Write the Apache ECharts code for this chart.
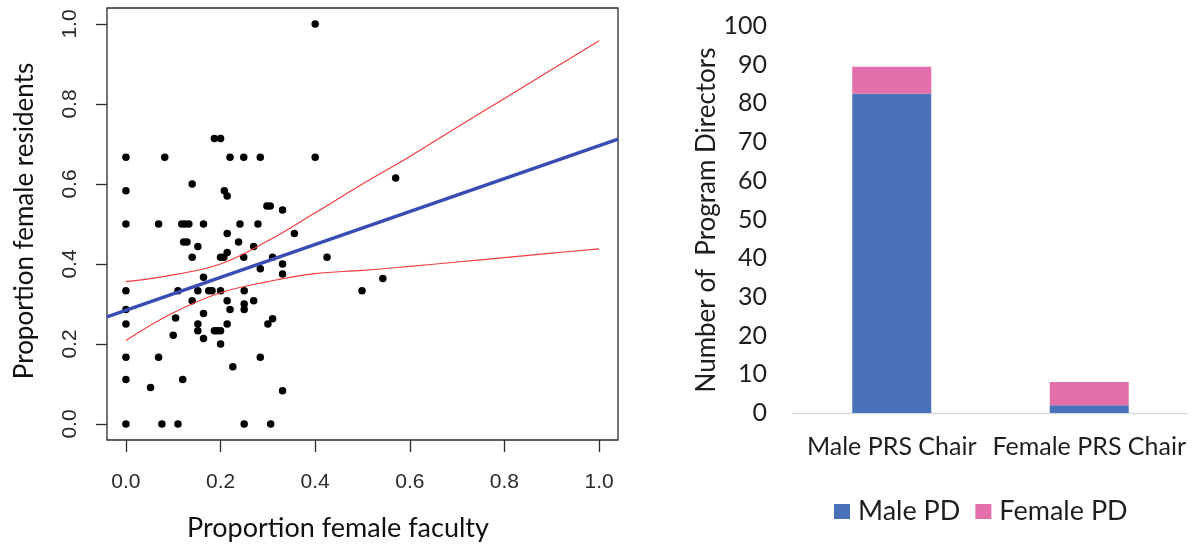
<!DOCTYPE html>
<html>
<head>
<meta charset="utf-8">
<title>PRS chairs and program directors</title>
<script src="https://cdn.jsdelivr.net/npm/echarts@6/dist/echarts.min.js"></script>
<style>
	html, body { margin: 0; padding: 0; background: #fff; }
	#main { width: 1201px; height: 547px; }
</style>
</head>
<body>
<div id="main"></div>
<script>
/* scatter: proportion female faculty (x) vs female residents (y) */
var facultyX = [
	0.40,
	0.187, 0.200,
	0, 0.082, 0.220, 0.249, 0.284, 0.400,
	0.140,
	0, 0.208, 0.214,
	0.298, 0.305, 0.331,
	0, 0.069, 0.118, 0.125, 0.133, 0.164, 0.241, 0.279,
	0.214, 0.356,
	0.238, 0.122, 0.129,
	0.152, 0.270,
	0.214,
	0.140, 0.200, 0.207, 0.249, 0.310, 0.425,
	0.284, 0.331, 0.331, 0.164,
	0, 0.110, 0.152, 0.175, 0.182, 0.200, 0.250,
	0.140, 0.214, 0.270, 0.250,
	0, 0.220, 0.250,
	0.105, 0.310, 0.164,
	0, 0.152, 0.214, 0.300,
	0.152, 0.187, 0.193, 0.200,
	0.100, 0.164, 0.200,
	0, 0.069, 0.284,
	0.226, 0, 0.120, 0.052, 0.331,
	0, 0.076, 0.110, 0.250, 0.306,
	0.570, 0.543, 0.499
];
var residentsY = [
	1.0,
	0.714, 0.714,
	0.667, 0.667, 0.667, 0.667, 0.667, 0.667,
	0.600,
	0.583, 0.583, 0.570,
	0.545, 0.545, 0.535,
	0.5, 0.5, 0.5, 0.5, 0.5, 0.5, 0.5, 0.5,
	0.476, 0.476,
	0.455, 0.455, 0.455,
	0.444, 0.444,
	0.429,
	0.417, 0.417, 0.417, 0.417, 0.417, 0.417,
	0.388, 0.400, 0.375, 0.367,
	0.333, 0.333, 0.333, 0.333, 0.333, 0.333, 0.333,
	0.308, 0.308, 0.308, 0.300,
	0.286, 0.286, 0.286,
	0.265, 0.263, 0.276,
	0.25, 0.25, 0.25, 0.25,
	0.233, 0.233, 0.233, 0.233,
	0.222, 0.214, 0.200,
	0.167, 0.167, 0.167,
	0.143, 0.111, 0.111, 0.091, 0.083,
	0, 0, 0, 0, 0,
	0.615, 0.364, 0.333
];

/* fitted line and confidence band */
var fitX = [-0.04, 1.04];
var fitY = [0.268, 0.712];
var bandX = [0, 0.1, 0.2, 0.3, 0.4, 0.5, 0.6, 0.7, 0.8, 0.9, 1.0];
var bandUpper = [0.356, 0.373, 0.400, 0.458, 0.528, 0.600, 0.669, 0.742, 0.814, 0.886, 0.958];
var bandLower = [0.209, 0.278, 0.328, 0.356, 0.376, 0.384, 0.394, 0.405, 0.416, 0.427, 0.438];
var propTicks = [0, 0.2, 0.4, 0.6, 0.8, 1.0];

/* stacked bars */
var chairCats = ['Male PRS Chair', 'Female PRS Chair'];
var malePD = [82.5, 2];
var femalePD = [7, 6];

function pairs(xs, ys) {
	var out = [];
	for (var i = 0; i < xs.length; i++) {
		out.push([xs[i], ys[i]]);
	}
	return out;
}

window.onload = function () {
	var chart = echarts.init(document.getElementById('main'));
	var rFont = 'Liberation Sans';
	var msFont = 'Lato';

	var option = {
		animation: false,
		backgroundColor: '#fff',
		grid: [{
			left: 107, top: 8, width: 511, height: 432,
			show: true,
			borderColor: '#2b2b2b',
			borderWidth: 1.3,
			backgroundColor: 'transparent'
		}, {
			left: 793, top: 26, width: 395, height: 387
		}],
		xAxis: [{
			type: 'value',
			gridIndex: 0,
			min: -0.04,
			max: 1.04,
			axisLine: { show: false, onZero: false },
			splitLine: { show: false },
			axisTick: {
				show: true, inside: false, length: 12,
				customValues: propTicks,
				lineStyle: { color: '#2b2b2b', width: 1.3 }
			},
			axisLabel: {
				customValues: propTicks,
				margin: 32,
				fontFamily: rFont,
				fontSize: 21,
				color: '#2a2a2a',
				formatter: function (v) { return v.toFixed(1); }
			}
		}, {
			type: 'category',
			gridIndex: 1,
			data: chairCats,
			axisLine: { lineStyle: { color: '#d9d9d9', width: 1.3 } },
			axisTick: { show: false },
			axisLabel: {
				interval: 0,
				margin: 21,
				fontFamily: msFont,
				fontSize: 25,
				color: '#1e1e1e'
			}
		}],
		yAxis: [{
			type: 'value',
			gridIndex: 0,
			min: -0.04,
			max: 1.04,
			axisLine: { show: false, onZero: false },
			splitLine: { show: false },
			axisTick: {
				show: true, inside: false, length: 11,
				customValues: propTicks,
				lineStyle: { color: '#2b2b2b', width: 1.3 }
			},
			axisLabel: {
				customValues: propTicks,
				rotate: 90,
				margin: 26,
				fontFamily: rFont,
				fontSize: 21,
				color: '#2a2a2a',
				formatter: function (v) { return v.toFixed(1); }
			}
		}, {
			type: 'value',
			gridIndex: 1,
			min: 0,
			max: 100,
			interval: 10,
			axisLine: { show: false },
			axisTick: { show: false },
			splitLine: { show: false },
			axisLabel: {
				margin: 26,
				fontFamily: msFont,
				fontSize: 25,
				color: '#1e1e1e'
			}
		}],
		legend: {
			data: ['Male PD', 'Female PD'],
			left: 829,
			top: 493,
			icon: 'rect',
			itemWidth: 16,
			itemHeight: 15,
			itemGap: 15,
			textStyle: {
				fontFamily: msFont,
				fontSize: 27,
				color: '#1e1e1e',
				padding: [0, 0, 0, 3]
			}
		},
		graphic: [{
			type: 'text',
			x: 25, y: 221,
			rotation: Math.PI / 2,
			style: {
				text: 'Proportion female residents',
				font: '26px Lato',
				fill: '#111',
				textAlign: 'center',
				textVerticalAlign: 'middle'
			}
		}, {
			type: 'text',
			x: 338, y: 528,
			style: {
				text: 'Proportion female faculty',
				font: '27px Lato',
				fill: '#111',
				textAlign: 'center',
				textVerticalAlign: 'middle'
			}
		}, {
			type: 'text',
			x: 707, y: 220,
			rotation: Math.PI / 2,
			style: {
				text: 'Number of  Program Directors',
				font: '26px Lato',
				fill: '#1e1e1e',
				textAlign: 'center',
				textVerticalAlign: 'middle'
			}
		}],
		series: [{
			name: 'residents',
			type: 'scatter',
			xAxisIndex: 0,
			yAxisIndex: 0,
			symbol: 'circle',
			symbolSize: 7.5,
			itemStyle: { color: '#000', opacity: 1 },
			data: pairs(facultyX, residentsY),
			z: 3
		}, {
			name: 'fit',
			type: 'line',
			xAxisIndex: 0,
			yAxisIndex: 0,
			showSymbol: false,
			lineStyle: { color: '#3a4db3', width: 3.5 },
			data: pairs(fitX, fitY),
			z: 4
		}, {
			name: 'upper',
			type: 'line',
			xAxisIndex: 0,
			yAxisIndex: 0,
			showSymbol: false,
			smooth: 0.4,
			lineStyle: { color: '#f53b3b', width: 1.2 },
			data: pairs(bandX, bandUpper),
			z: 4
		}, {
			name: 'lower',
			type: 'line',
			xAxisIndex: 0,
			yAxisIndex: 0,
			showSymbol: false,
			smooth: 0.4,
			lineStyle: { color: '#f53b3b', width: 1.2 },
			data: pairs(bandX, bandLower),
			z: 4
		}, {
			name: 'Male PD',
			type: 'bar',
			xAxisIndex: 1,
			yAxisIndex: 1,
			stack: 'pd',
			barWidth: '40%',
			itemStyle: { color: '#4a72b8' },
			data: malePD
		}, {
			name: 'Female PD',
			type: 'bar',
			xAxisIndex: 1,
			yAxisIndex: 1,
			stack: 'pd',
			barWidth: '40%',
			itemStyle: { color: '#e26fa9' },
			data: femalePD
		}]
	};
	chart.setOption(option);
};
</script>
</body>
</html>
